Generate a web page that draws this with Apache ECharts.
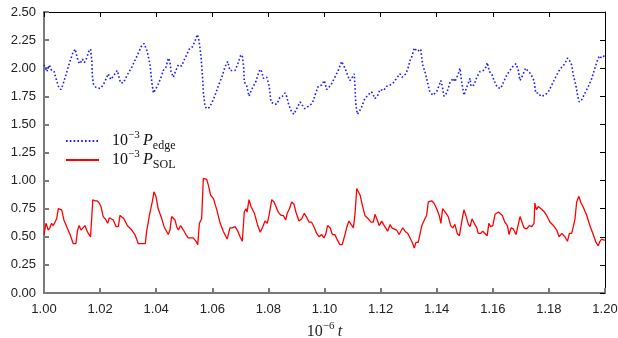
<!DOCTYPE html>
<html><head><meta charset="utf-8">
<script src="https://cdn.jsdelivr.net/npm/echarts@6/dist/echarts.min.js"></script>
<style>html,body{margin:0;padding:0;background:#fff}#c{width:618px;height:338px}</style>
</head><body><div id="c"></div>
<script>
var tEdge=[1.0000,1.0010,1.0019,1.0027,1.0036,1.0045,1.0051,1.0060,1.0067,1.0078,1.0090,1.0102,1.0111,1.0117,1.0122,1.0128,1.0137,1.0144,1.0152,1.0160,1.0166,1.0171,1.0172,1.0176,1.0185,1.0200,1.0211,1.0224,1.0229,1.0238,1.0250,1.0261,1.0266,1.0273,1.0283,1.0297,1.0313,1.0330,1.0346,1.0357,1.0364,1.0368,1.0378,1.0384,1.0390,1.0396,1.0404,1.0416,1.0425,1.0435,1.0443,1.0449,1.0453,1.0461,1.0470,1.0479,1.0491,1.0499,1.0509,1.0518,1.0529,1.0538,1.0547,1.0553,1.0559,1.0564,1.0568,1.0574,1.0580,1.0589,1.0598,1.0610,1.0621,1.0634,1.0645,1.0655,1.0663,1.0681,1.0691,1.0702,1.0708,1.0712,1.0714,1.0723,1.0731,1.0740,1.0755,1.0764,1.0770,1.0776,1.0782,1.0794,1.0803,1.0809,1.0821,1.0830,1.0841,1.0850,1.0859,1.0865,1.0873,1.0883,1.0891,1.0901,1.0913,1.0921,1.0930,1.0942,1.0957,1.0969,1.0978,1.0990,1.0999,1.1008,1.1023,1.1037,1.1049,1.1061,1.1067,1.1073,1.1085,1.1091,1.1099,1.1106,1.1109,1.1112,1.1117,1.1123,1.1130,1.1142,1.1154,1.1168,1.1180,1.1190,1.1198,1.1210,1.1222,1.1234,1.1245,1.1257,1.1269,1.1277,1.1290,1.1299,1.1305,1.1311,1.1320,1.1331,1.1343,1.1350,1.1358,1.1367,1.1374,1.1386,1.1400,1.1409,1.1415,1.1420,1.1426,1.1436,1.1447,1.1459,1.1465,1.1477,1.1483,1.1489,1.1497,1.1504,1.1513,1.1519,1.1522,1.1533,1.1543,1.1554,1.1566,1.1576,1.1580,1.1588,1.1596,1.1602,1.1608,1.1616,1.1628,1.1637,1.1650,1.1661,1.1673,1.1683,1.1691,1.1697,1.1707,1.1717,1.1727,1.1735,1.1742,1.1747,1.1753,1.1762,1.1771,1.1786,1.1798,1.1810,1.1822,1.1834,1.1846,1.1857,1.1866,1.1873,1.1881,1.1887,1.1896,1.1903,1.1908,1.1917,1.1929,1.1941,1.1953,1.1964,1.1973,1.1980,1.1988,1.1997,1.2000];
var pEdge=[2.03,1.97,2.03,1.98,1.97,1.89,1.84,1.81,1.85,1.94,2.04,2.13,2.17,2.17,2.06,2.04,2.08,2.05,2.09,2.15,2.17,2.06,1.94,1.86,1.83,1.82,1.85,1.92,1.95,1.90,1.94,1.98,1.97,1.87,1.87,1.94,2.01,2.10,2.19,2.22,2.21,2.15,2.03,1.88,1.78,1.78,1.84,1.91,1.98,2.01,2.09,2.06,1.97,1.92,1.98,2.03,2.02,2.07,2.12,2.17,2.19,2.24,2.30,2.24,2.12,1.97,1.79,1.66,1.64,1.65,1.69,1.76,1.84,1.92,2.01,2.06,1.98,1.98,2.04,2.12,2.10,2.00,1.88,1.84,1.75,1.81,1.88,1.95,1.99,1.97,1.91,1.92,1.84,1.70,1.68,1.68,1.74,1.75,1.78,1.75,1.67,1.61,1.59,1.64,1.70,1.67,1.64,1.66,1.69,1.78,1.84,1.85,1.89,1.81,1.85,1.92,1.98,2.06,2.07,2.00,1.92,1.89,1.92,1.95,1.82,1.67,1.59,1.58,1.64,1.72,1.76,1.79,1.73,1.76,1.81,1.80,1.84,1.85,1.87,1.91,1.95,1.92,1.95,2.01,2.07,2.10,2.18,2.15,2.17,2.03,1.97,1.88,1.80,1.76,1.79,1.85,1.89,1.84,1.75,1.78,1.87,1.91,1.88,1.95,2.00,1.88,1.76,1.81,1.87,1.91,1.84,1.85,1.92,1.97,1.98,2.01,2.05,1.97,1.95,1.95,1.87,1.83,1.82,1.87,1.94,1.98,2.02,2.04,1.98,1.89,1.94,2.00,1.97,1.95,1.95,1.89,1.78,1.78,1.75,1.76,1.79,1.85,1.91,1.97,2.01,2.04,2.09,2.07,2.03,1.94,1.85,1.75,1.70,1.72,1.78,1.84,1.91,2.00,2.07,2.11,2.09,2.11,2.11];
var tSol=[1.0000,1.0007,1.0015,1.0021,1.0027,1.0033,1.0039,1.0045,1.0051,1.0057,1.0063,1.0071,1.0081,1.0093,1.0104,1.0114,1.0119,1.0125,1.0132,1.0138,1.0146,1.0152,1.0158,1.0166,1.0174,1.0182,1.0190,1.0197,1.0203,1.0211,1.0221,1.0227,1.0233,1.0240,1.0247,1.0257,1.0265,1.0271,1.0277,1.0285,1.0297,1.0313,1.0324,1.0336,1.0342,1.0352,1.0361,1.0366,1.0372,1.0378,1.0386,1.0392,1.0399,1.0407,1.0420,1.0428,1.0435,1.0443,1.0449,1.0455,1.0461,1.0467,1.0473,1.0479,1.0487,1.0497,1.0506,1.0514,1.0532,1.0542,1.0548,1.0554,1.0562,1.0568,1.0574,1.0580,1.0586,1.0594,1.0604,1.0616,1.0627,1.0639,1.0653,1.0663,1.0671,1.0681,1.0691,1.0699,1.0707,1.0714,1.0720,1.0724,1.0731,1.0738,1.0750,1.0762,1.0771,1.0780,1.0788,1.0796,1.0803,1.0812,1.0820,1.0827,1.0835,1.0845,1.0853,1.0862,1.0867,1.0875,1.0883,1.0891,1.0898,1.0909,1.0919,1.0928,1.0937,1.0945,1.0954,1.0964,1.0972,1.0981,1.0990,1.0998,1.1004,1.1011,1.1020,1.1028,1.1037,1.1046,1.1055,1.1063,1.1071,1.1079,1.1087,1.1094,1.1103,1.1109,1.1115,1.1121,1.1127,1.1135,1.1144,1.1156,1.1166,1.1174,1.1180,1.1188,1.1195,1.1204,1.1213,1.1225,1.1234,1.1240,1.1245,1.1257,1.1266,1.1273,1.1279,1.1287,1.1297,1.1305,1.1313,1.1320,1.1326,1.1334,1.1340,1.1347,1.1352,1.1358,1.1364,1.1370,1.1376,1.1382,1.1390,1.1400,1.1409,1.1415,1.1421,1.1426,1.1433,1.1441,1.1450,1.1457,1.1465,1.1473,1.1481,1.1489,1.1497,1.1504,1.1513,1.1519,1.1526,1.1534,1.1543,1.1548,1.1557,1.1564,1.1572,1.1580,1.1586,1.1592,1.1600,1.1608,1.1614,1.1620,1.1626,1.1634,1.1643,1.1652,1.1658,1.1665,1.1673,1.1683,1.1687,1.1697,1.1703,1.1711,1.1721,1.1730,1.1739,1.1747,1.1750,1.1756,1.1762,1.1768,1.1776,1.1784,1.1792,1.1804,1.1816,1.1828,1.1836,1.1846,1.1857,1.1866,1.1873,1.1881,1.1887,1.1893,1.1899,1.1907,1.1913,1.1923,1.1935,1.1946,1.1958,1.1968,1.1976,1.1982,1.1988,1.1997,1.2000];
var pSol=[0.52,0.62,0.56,0.58,0.62,0.60,0.63,0.66,0.75,0.75,0.74,0.65,0.59,0.52,0.44,0.44,0.55,0.60,0.56,0.56,0.60,0.56,0.53,0.50,0.83,0.82,0.82,0.80,0.77,0.68,0.65,0.62,0.67,0.66,0.65,0.59,0.59,0.69,0.70,0.66,0.60,0.56,0.52,0.44,0.43,0.44,0.44,0.55,0.56,0.72,0.81,0.90,0.86,0.75,0.66,0.59,0.58,0.52,0.56,0.68,0.69,0.65,0.59,0.56,0.60,0.56,0.52,0.49,0.49,0.46,0.43,0.62,0.66,1.02,1.03,1.01,0.96,0.87,0.84,0.74,0.63,0.55,0.48,0.58,0.58,0.59,0.55,0.50,0.46,0.72,0.75,0.72,0.83,0.77,0.71,0.60,0.54,0.59,0.64,0.62,0.70,0.83,0.81,0.80,0.72,0.69,0.69,0.65,0.71,0.75,0.81,0.79,0.72,0.64,0.66,0.71,0.67,0.63,0.63,0.58,0.53,0.50,0.52,0.49,0.52,0.60,0.58,0.52,0.52,0.47,0.43,0.43,0.50,0.58,0.64,0.63,0.58,0.71,0.93,0.93,0.87,0.78,0.69,0.66,0.63,0.63,0.70,0.65,0.60,0.64,0.60,0.55,0.61,0.58,0.59,0.56,0.52,0.52,0.58,0.55,0.53,0.49,0.45,0.40,0.45,0.45,0.46,0.60,0.60,0.66,0.69,0.81,0.81,0.82,0.80,0.75,0.69,0.62,0.75,0.76,0.71,0.68,0.60,0.58,0.61,0.53,0.51,0.63,0.74,0.69,0.61,0.59,0.66,0.62,0.58,0.53,0.53,0.55,0.53,0.51,0.62,0.59,0.60,0.70,0.69,0.72,0.73,0.69,0.63,0.60,0.52,0.58,0.57,0.52,0.52,0.68,0.68,0.58,0.57,0.60,0.59,0.62,0.80,0.74,0.77,0.77,0.74,0.72,0.69,0.63,0.60,0.56,0.50,0.53,0.50,0.46,0.53,0.53,0.59,0.66,0.81,0.86,0.81,0.76,0.69,0.60,0.52,0.45,0.42,0.46,0.48,0.47,0.47];
var xTicks={min:1.0,max:1.2,step:0.02};
var yTicks={min:0,max:2.5,step:0.25};
var legendNames=['edge','SOL'];

function pairs(t,v){return t.map(function(x,i){return [x,v[i]];});}
var serif='"Liberation Serif","DejaVu Serif",serif';
var sans='"Liberation Sans",Arial,sans-serif';
var chart=echarts.init(document.getElementById('c'),null,{renderer:'canvas'});
var axisGray='#7a7a7a';
function xAx(pos,color,w,show){return {type:'value',position:pos,min:xTicks.min,max:xTicks.max,interval:xTicks.step,
  axisLine:{show:true,onZero:false,lineStyle:{color:color,width:w}},axisTick:{show:true,inside:true,length:5,lineStyle:{color:color,width:w}},
  axisLabel:{show:show,margin:10,color:'#222',fontSize:13,fontFamily:sans,formatter:function(v){return v.toFixed(2);}},splitLine:{show:false}};}
function yAx(pos,color,w,show){return {type:'value',position:pos,min:yTicks.min,max:yTicks.max,interval:yTicks.step,
  axisLine:{show:true,onZero:false,lineStyle:{color:color,width:w}},axisTick:{show:true,inside:true,length:5,lineStyle:{color:color,width:w}},
  axisLabel:{show:show,margin:8,color:'#222',fontSize:13,fontFamily:sans,formatter:function(v){return v.toFixed(2);}},splitLine:{show:false}};}
var xb=xAx('bottom',axisGray,2,true);
xb.name='{n|10}{sup|−6} {i|t}';
xb.nameLocation='middle';xb.nameGap=25;
xb.nameTextStyle={rich:{n:{fontFamily:serif,fontSize:16,color:'#222',lineHeight:22,verticalAlign:'middle'},sup:{fontFamily:serif,fontSize:11,color:'#222',lineHeight:12,verticalAlign:'top'},i:{fontFamily:serif,fontStyle:'italic',fontSize:16,color:'#222',lineHeight:22,verticalAlign:'middle'}}};
var xt=xAx('top','#000',1,false);
var yl=yAx('left',axisGray,2,true);
var yr=yAx('right','#000',1,false);
var legRich={s:{width:8,lineHeight:22},
  n:{fontFamily:serif,fontSize:16,color:'#111',lineHeight:22,verticalAlign:'middle'},
  sup:{fontFamily:serif,fontSize:11,color:'#111',lineHeight:12,verticalAlign:'top'},
  i:{fontFamily:serif,fontStyle:'italic',fontSize:16,color:'#111',lineHeight:22,verticalAlign:'middle'},
  sub:{fontFamily:serif,fontSize:12,color:'#111',lineHeight:13,verticalAlign:'bottom'}};
var names=legendNames.map(function(s){return '10^-3 P_'+s;});
chart.setOption({
  animation:false,
  grid:{left:44,right:13,top:12,bottom:45,containLabel:false,outerBoundsMode:'none'},
  legend:{left:65,top:130,padding:0,orient:'vertical',itemWidth:33,itemHeight:14,itemGap:-3,
    itemStyle:{opacity:0},
    data:names,
    formatter:function(n){var s=n.split('_')[1];return '{s| }{n|10}{sup|−3} {i|P}{sub|'+s+'}';},
    textStyle:{rich:legRich}},
  xAxis:[xb,xt],
  yAxis:[yl,yr],
  series:[
    {name:names[0],type:'line',data:pairs(tEdge,pEdge),showSymbol:false,symbol:'none',smooth:false,
      lineStyle:{color:'#1a1aff',width:1.6,type:[1.6,2.2]},itemStyle:{color:'#1a1aff'}},
    {name:names[1],type:'line',data:pairs(tSol,pSol),showSymbol:false,symbol:'none',smooth:false,
      lineStyle:{color:'#ff0000',width:1.3},itemStyle:{color:'#ff0000'}}
  ]
});
</script></body></html>
